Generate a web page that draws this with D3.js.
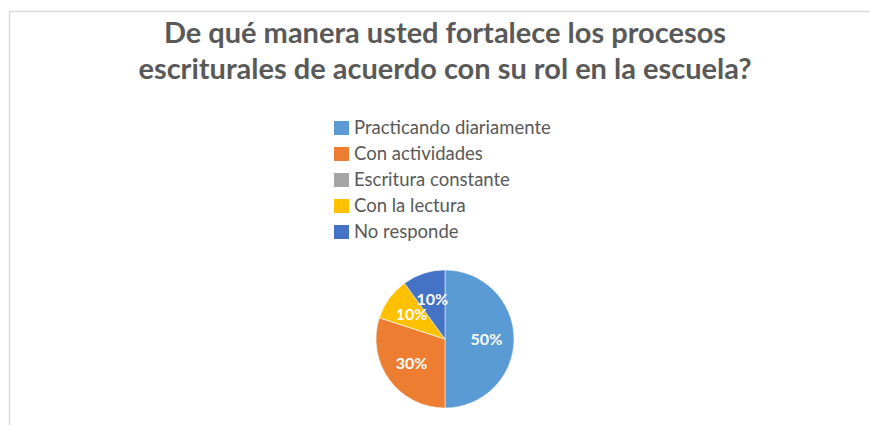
<!DOCTYPE html>
<html>
<head>
<meta charset="utf-8">
<script src="https://cdn.jsdelivr.net/npm/d3@7"></script>
<style>
  body { margin: 0; background: #fff; }
  svg { display: block; }
</style>
</head>
<body>
<div id="chart"></div>
<script>
const titleLines = ["De qué manera usted fortalece los procesos", "escriturales de acuerdo con su rol en la escuela?"];
const categories = ["Practicando diariamente", "Con actividades", "Escritura constante", "Con la lectura", "No responde"];
const values = [50, 30, 0, 10, 10];
const colors = ["#5B9BD5", "#ED7D31", "#A5A5A5", "#FFC000", "#4472C4"];

const width = 870, height = 425;
const cx = 445, cy = 339, radius = 69;

const svg = d3.select("#chart")
  .append("svg")
  .attr("width", width)
  .attr("height", height);

// chart area border (only top and left edges visible in the crop)
svg.append("path")
  .attr("d", "M9.5," + height + "V11.5H" + width)
  .attr("fill", "none")
  .attr("stroke", "#d9d9d9")
  .attr("stroke-width", 1.5);

// title
svg.append("g")
  .selectAll("text")
  .data(titleLines)
  .enter()
  .append("text")
  .attr("x", 445)
  .attr("y", (d, i) => 43 + i * 36)
  .attr("text-anchor", "middle")
  .attr("font-family", "Lato, 'Open Sans', sans-serif")
  .attr("font-weight", "bold")
  .attr("font-size", 29)
  .attr("fill", "#595959")
  .text(d => d);

// legend
const legend = svg.append("g")
  .attr("transform", "translate(334,121)");

const rows = legend.selectAll("g")
  .data(categories)
  .enter()
  .append("g")
  .attr("transform", (d, i) => "translate(0," + i * 26 + ")");

rows.append("rect")
  .attr("width", 15)
  .attr("height", 14)
  .attr("fill", (d, i) => colors[i]);

rows.append("text")
  .attr("x", 20)
  .attr("y", 13)
  .attr("font-family", "Lato, 'Open Sans', sans-serif")
  .attr("font-size", 18.5)
  .attr("fill", "#595959")
  .text(d => d);

// pie
const pie = d3.pie()
  .sort(null)
  .value(d => d.value);

const data = categories.map((c, i) => ({ name: c, value: values[i], color: colors[i] }));
const arcs = pie(data);

const arc = d3.arc()
  .innerRadius(0)
  .outerRadius(radius);

const labelArc = d3.arc()
  .innerRadius(radius * 0.6)
  .outerRadius(radius * 0.6);

const g = svg.append("g")
  .attr("transform", "translate(" + cx + "," + cy + ")");

g.selectAll("path")
  .data(arcs)
  .enter()
  .append("path")
  .attr("d", arc)
  .attr("fill", d => d.data.color)
  .attr("stroke", "#fff")
  .attr("stroke-width", 0.5);

g.selectAll("text")
  .data(arcs.filter(d => d.data.value > 0))
  .enter()
  .append("text")
  .attr("transform", d => "translate(" + labelArc.centroid(d) + ")")
  .attr("text-anchor", "middle")
  .attr("dy", "0.35em")
  .attr("font-family", "Lato, 'Open Sans', sans-serif")
  .attr("font-weight", "bold")
  .attr("font-size", 16)
  .attr("fill", "#fff")
  .text(d => d.data.value + "%");
</script>
</body>
</html>
